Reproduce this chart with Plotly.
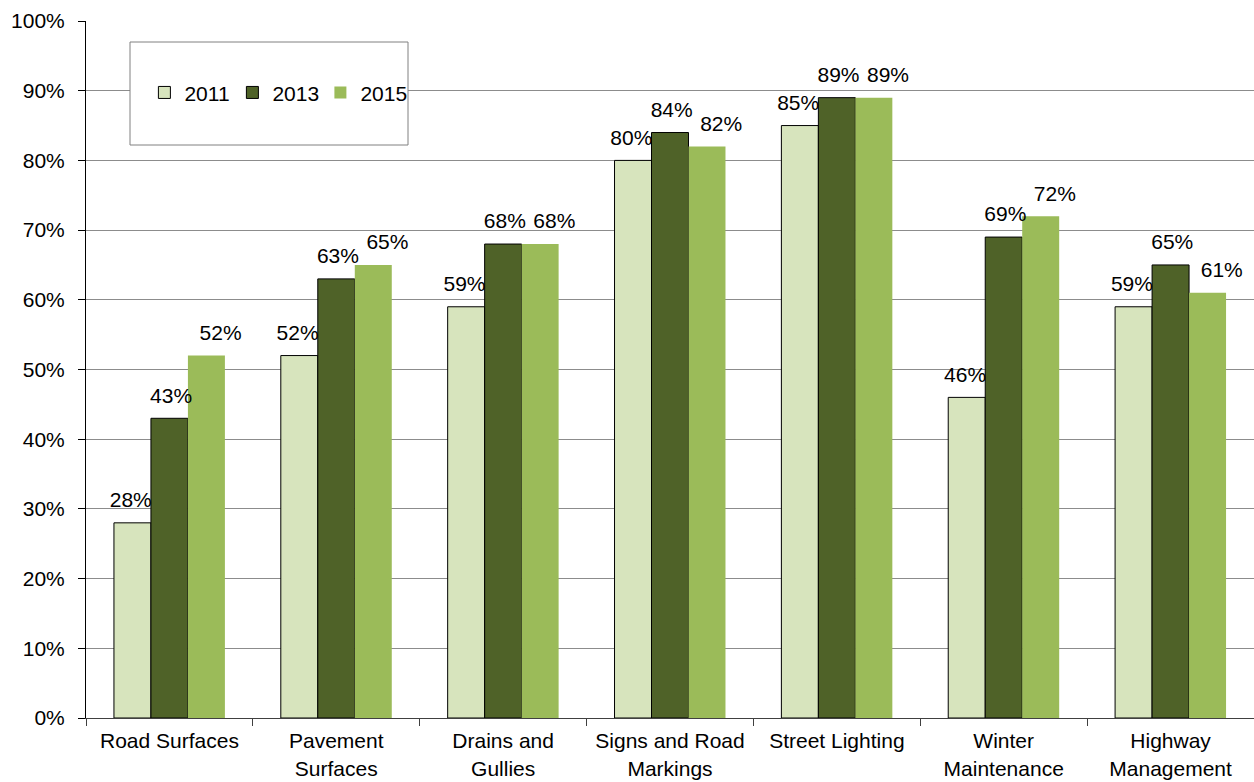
import plotly.graph_objects as go

categories = ["Road Surfaces", "Pavement<br>Surfaces", "Drains and<br>Gullies",
              "Signs and Road<br>Markings", "Street Lighting", "Winter<br>Maintenance",
              "Highway<br>Management"]
years = ["2011", "2013", "2015"]
vals_2011 = [28, 52, 59, 80, 85, 46, 59]
vals_2013 = [43, 63, 68, 84, 89, 69, 65]
vals_2015 = [52, 65, 68, 82, 89, 72, 61]

COLORS = {"2011": "#D7E4BD", "2013": "#4F6228", "2015": "#9BBB59"}
LINES = {"2011": (1, "#000000"), "2013": (1, "#000000"), "2015": (0, "#9BBB59")}
FONT = "Liberation Sans, Arial, sans-serif"

BARGAP = 0.335
BAR_W = (1 - BARGAP) / 3
# label nudges (category units) to mimic the source placement
LABEL_SHIFT = {"2011": -0.01, "2013": 0.01, "2015": 0.085}

fig = go.Figure()
for k, (year, vals) in enumerate(zip(years, [vals_2011, vals_2013, vals_2015])):
    lw, lc = LINES[year]
    fig.add_trace(go.Bar(
        x=categories, y=[v / 100 for v in vals], name=year,
        marker=dict(color=COLORS[year], line=dict(width=lw, color=lc)),
    ))
    # invisible markers just push the labels up off the bar tops
    fig.add_trace(go.Scatter(
        x=[i + (k - 1) * BAR_W + LABEL_SHIFT[year] for i in range(len(categories))],
        y=[v / 100 for v in vals], xaxis="x2", mode="markers+text",
        marker=dict(size=15, opacity=0),
        text=[f"{v}%" for v in vals], textposition="top center",
        textfont=dict(size=21, color="#000000", family=FONT),
        showlegend=False, hoverinfo="skip", cliponaxis=False,
    ))

fig.update_layout(
    width=1254, height=782,
    barmode="group", bargap=BARGAP, bargroupgap=0,
    plot_bgcolor="white", paper_bgcolor="white",
    margin=dict(l=86, r=0, t=21, b=64),
    font=dict(family=FONT, size=21, color="#000000"),
    showlegend=True,
    legend=dict(orientation="h", x=0.05, y=0.897, xanchor="left", yanchor="middle",
                bgcolor="rgba(0,0,0,0)", font=dict(size=21),
                itemwidth=30, entrywidth=43, entrywidthmode="pixels"),
    shapes=[dict(type="rect", xref="paper", yref="paper",
                 x0=(130 - 86) / 1168, x1=(408 - 86) / 1168,
                 y0=(718 - 145) / 697, y1=(718 - 42) / 697,
                 line=dict(color="#808080", width=1), fillcolor="white", layer="above")],
    yaxis=dict(range=[0, 1], dtick=0.1, tickformat=".0%",
               showgrid=True, gridcolor="#8C8C8C", gridwidth=1,
               showline=True, linecolor="#000000", linewidth=1,
               ticks="outside", ticklen=7, tickcolor="#000000", ticklabelstandoff=9,
               zeroline=False, tickfont=dict(size=21), automargin=False),
    xaxis=dict(range=[-0.5, len(categories) - 0.5],
               showline=True, linecolor="#404040", linewidth=1,
               ticks="outside", tickson="boundaries", ticklen=7, tickcolor="#404040",
               ticklabelstandoff=4, tickfont=dict(size=21), showgrid=False,
               automargin=False),
    xaxis2=dict(range=[-0.5, len(categories) - 0.5], overlaying="x", visible=False),
)

fig.write_html("out.html", config={"displayModeBar": False},
               post_script="document.body.style.margin='0px';")
